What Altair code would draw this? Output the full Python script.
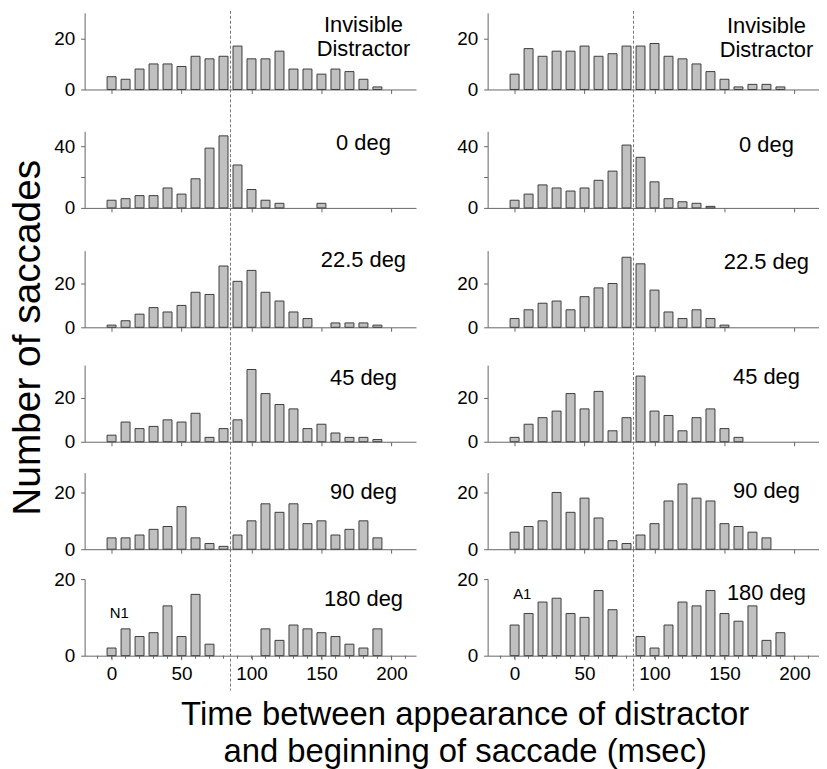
import altair as alt
import pandas as pd

# ---- data -------------------------------------------------------------
times = [0, 10, 20, 30, 40, 50, 60, 70, 80, 90, 100, 110, 120, 130, 140, 150, 160, 170, 180, 190]

row_labels = ["Invisible\nDistractor", "0 deg", "22.5 deg", "45 deg", "90 deg", "180 deg"]

left_inv = [5, 4, 8, 10, 10, 9, 13, 12, 13, 17, 12, 12, 15, 8, 8, 6, 8, 7, 4, 1]
left_0 = [5, 6, 8, 8, 13, 9, 19, 39, 47, 28, 12, 5, 3, 0, 0, 3, 0, 0, 0, 0]
left_22 = [1, 3, 6, 9, 7, 10, 16, 15, 28, 21, 26, 16, 12, 7, 4, 0, 2, 2, 2, 1]
left_45 = [3, 9, 6, 7, 10, 9, 13, 2, 6, 10, 33, 22, 17, 15, 6, 8, 4, 2, 2, 1]
left_90 = [4, 4, 5, 7, 8, 15, 4, 2, 1, 5, 10, 16, 13, 16, 9, 10, 5, 7, 10, 4]
left_180 = [2, 7, 5, 6, 13, 5, 16, 3, 0, 0, 0, 7, 4, 8, 7, 6, 5, 3, 2, 7]

right_inv = [6, 16, 13, 15, 15, 17, 13, 14, 17, 17, 18, 13, 12, 10, 7, 4, 1, 2, 2, 1]
right_0 = [5, 9, 15, 13, 11, 13, 18, 24, 41, 33, 17, 6, 4, 3, 1, 0, 0, 0, 0, 0]
right_22 = [4, 8, 11, 12, 8, 14, 18, 20, 32, 29, 17, 7, 4, 8, 4, 1, 0, 0, 0, 0]
right_45 = [2, 8, 11, 14, 22, 15, 23, 5, 11, 30, 14, 12, 5, 11, 15, 6, 2, 0, 0, 0]
right_90 = [6, 8, 10, 20, 13, 18, 11, 3, 2, 5, 9, 17, 23, 18, 17, 9, 8, 6, 4, 0]
right_180 = [8, 11, 14, 15, 11, 10, 17, 12, 0, 5, 2, 8, 14, 13, 17, 11, 9, 13, 4, 6]

y_max = [30, 50, 35, 35, 27, 20]
y_ticks = [[0, 20], [0, 20, 40], [0, 20], [0, 20], [0, 20], [0, 20]]
x_ticks = [0, 50, 100, 150, 200]
minor_ticks = [-10, 0, 10, 20, 30, 40, 50, 60, 70, 80, 90, 100, 110, 120, 130, 140, 150, 160, 170, 180, 190, 200, 210]
distractor_time = 85
label_time = 180
corner_labels = ["N1", "A1"]
corner_time = 5.5

# ---- styling / layout ---------------------------------------------------
FONT = "Liberation Sans"
W = 333
DATA_H = 77
# full cell height of each row (data area sits at the bottom of the cell)
cell_h = [77, 119, 120, 115, 108, 107]
label_y = [[2, 12, 9, 13, 20, 20], [3, 14, 11, 12, 19, 14]]
corner_y = [34, 15]


def panel(counts, row, col):
    df = pd.DataFrame({"t": times, "n": counts})
    bottom = row == 5
    hcell = cell_h[row]
    extra = hcell - DATA_H
    xaxis = alt.Axis(values=x_ticks, labels=bottom, title=None, tickSize=4,
                     labelPadding=5, labelFontSize=19, labelFont=FONT,
                     labelColor="black", domainColor="#666", tickColor="#666")
    xenc = alt.X("t:Q", scale=alt.Scale(domain=[-15.7, 214], nice=False, zero=False),
                 axis=xaxis)
    yaxis = alt.Axis(values=y_ticks[row], title=None, tickSize=4, labelPadding=6,
                     labelFontSize=19, labelFont=FONT, labelColor="black",
                     domainColor="#666", tickColor="#666",
                     labelExpr="datum.value == 20 && %d == 1 ? '' : datum.label" % row)
    bars = alt.Chart(df).transform_filter("datum.n > 0").mark_bar(
        size=9, fill="#c0c0c0", stroke="#3c3c3c", strokeWidth=1
    ).encode(
        x=xenc,
        y=alt.Y("n:Q", scale=alt.Scale(domain=[0, y_max[row]], nice=False,
                                       range=[hcell, extra]), axis=yaxis),
    )
    y1_val = -2 if row == 0 else 0
    y2_val = hcell + 35 if bottom else hcell
    rule = alt.Chart(pd.DataFrame({"t": [distractor_time]})).mark_rule(
        strokeDash=[3, 2], color="#777", strokeWidth=1
    ).encode(x=xenc, y=alt.value(y1_val), y2=alt.value(y2_val))
    lab = row_labels[row]
    if row == 0:
        txt = alt.Chart(pd.DataFrame({"t": [label_time], "s": [lab]})).mark_text(
            font=FONT, fontSize=22, baseline="top", align="center",
            lineBreak="\n", lineHeight=24, color="black"
        ).encode(x=xenc, y=alt.value(label_y[col][row] + extra), text="s:N")
    else:
        txt = alt.Chart(pd.DataFrame({"t": [label_time], "s": [lab]})).mark_text(
            font=FONT, fontSize=22, baseline="middle", align="center", color="black"
        ).encode(x=xenc, y=alt.value(label_y[col][row] + extra), text="s:N")
    layers = [rule, bars, txt]
    if bottom:
        mt = alt.Chart(pd.DataFrame({"t": minor_ticks})).mark_rule(
            color="#666", strokeWidth=1
        ).encode(x=xenc, y=alt.value(hcell), y2=alt.value(hcell + 3))
        ct = alt.Chart(pd.DataFrame({"t": [corner_time], "s": [corner_labels[col]]})).mark_text(
            font=FONT, fontSize=15, baseline="middle", align="center", color="black"
        ).encode(x=xenc, y=alt.value(corner_y[col] + extra), text="s:N")
        layers += [mt, ct]
    return alt.layer(*layers).properties(width=W, height=hcell)


left = [left_inv, left_0, left_22, left_45, left_90, left_180]
right = [right_inv, right_0, right_22, right_45, right_90, right_180]

panels = []
for r in range(6):
    panels.append(panel(left[r], r, 0))
    panels.append(panel(right[r], r, 1))

xtitle = alt.TitleParams(
    text=["Time between appearance of distractor", "and beginning of saccade (msec)"],
    orient="bottom", anchor="middle", font=FONT, fontSize=33, fontWeight="normal",
    lineHeight=37, offset=8, dx=29, color="black")
ytitle = alt.TitleParams(
    text="Number of saccades", orient="left", anchor="middle", font=FONT,
    fontSize=39, fontWeight="normal", offset=6, dx=52, color="black")

grid = alt.concat(*panels, columns=2, spacing={"row": 0, "column": 72},
                  bounds="flush", title=xtitle)
chart = alt.vconcat(grid, title=ytitle, padding=0).configure_view(
    stroke=None
).configure_axis(grid=False)

chart.save("out.html", embed_options={"renderer": "svg", "actions": False})
